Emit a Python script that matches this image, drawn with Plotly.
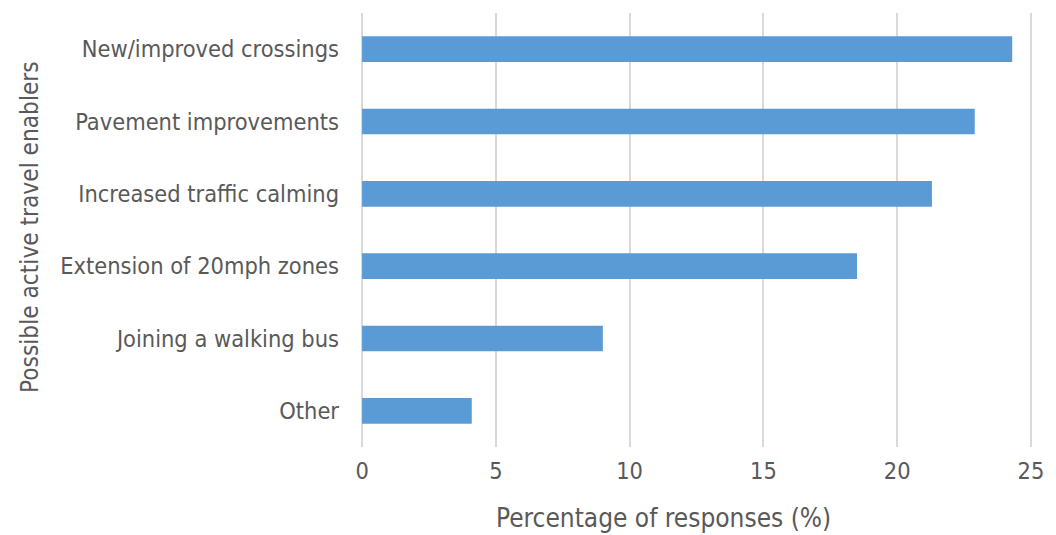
import plotly.graph_objects as go

# Survey results: share of responses per suggested enabler
categories = [
    "New/improved crossings",
    "Pavement improvements",
    "Increased traffic calming",
    "Extension of 20mph zones",
    "Joining a walking bus",
    "Other",
]
percentages = [24.3, 22.9, 21.3, 18.5, 9.0, 4.1]
x_ticks = [0, 5, 10, 15, 20, 25]

FONT = "'DejaVu Sans Condensed', 'DejaVu Sans', sans-serif"
TEXT_COLOR = "#595959"

L, R, T, B = 361, 16, 13, 88
PLOT_W = 1056 - L - R
PLOT_H = 535 - T - B

fig = go.Figure(
    go.Bar(
        x=percentages,
        y=categories,
        orientation="h",
        width=0.355,
        marker=dict(color="#5b9bd5", line=dict(width=0)),
    )
)

fig.update_layout(
    width=1056,
    height=535,
    margin=dict(l=L, r=R, t=T, b=B),
    paper_bgcolor="white",
    plot_bgcolor="white",
    showlegend=False,
    font=dict(family=FONT, color=TEXT_COLOR, size=23),
    xaxis=dict(
        range=[-0.04, 25.04],
        tickvals=x_ticks,
        showgrid=True,
        gridcolor="#d9d9d9",
        gridwidth=1.5,
        zeroline=False,
        showline=False,
        ticks="",
        ticklabelstandoff=8,
        tickfont=dict(size=23.4, color=TEXT_COLOR),
    ),
    yaxis=dict(
        categoryorder="array",
        categoryarray=categories[::-1],
        showgrid=False,
        zeroline=False,
        showline=False,
        ticks="",
        ticklabelstandoff=21,
        tickfont=dict(size=23.4, color=TEXT_COLOR),
    ),
    annotations=[
        dict(
            text="Percentage of responses (%)",
            xref="paper", yref="paper",
            x=(667 - L) / PLOT_W,
            y=-(518 - (535 - B)) / PLOT_H,
            xanchor="center", yanchor="middle",
            showarrow=False,
            font=dict(size=26, color=TEXT_COLOR, family=FONT),
        ),
        dict(
            text="Possible active travel enablers",
            xref="paper", yref="paper",
            x=-(L - 26) / PLOT_W,
            y=1 - (227 - T) / PLOT_H,
            xanchor="center", yanchor="middle",
            textangle=-90,
            showarrow=False,
            font=dict(size=24.2, color=TEXT_COLOR, family=FONT),
        ),
    ],
)

fig.write_html("out.html")
